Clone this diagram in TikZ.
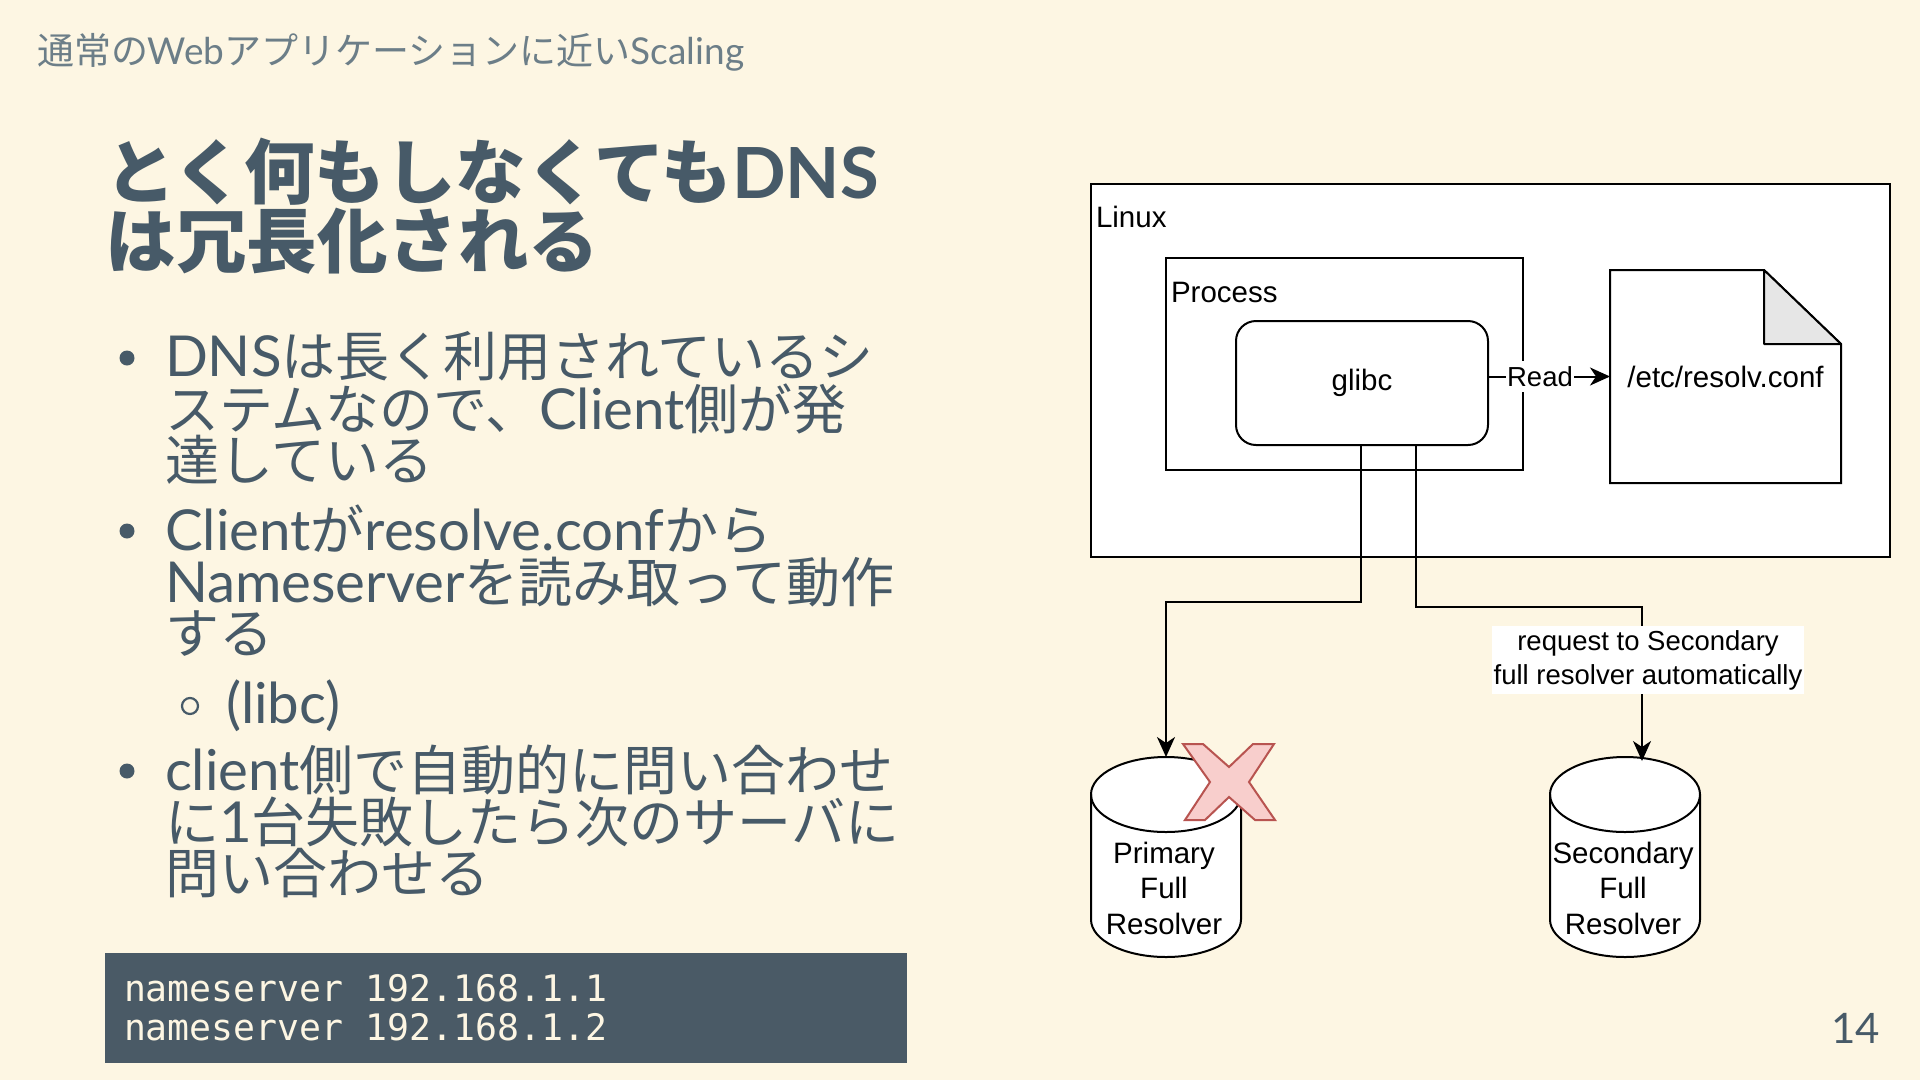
\documentclass[tikz,border=0pt]{standalone}
\usepackage{fontspec}
\setmainfont{Lato}
\newfontfamily\bodylat{Lato}[Scale=1.045]
\newfontfamily\jpfont{Noto Sans CJK JP}
\newfontfamily\diafont{Liberation Sans}
\newfontfamily\codefont{DejaVu Sans Mono}
\usetikzlibrary{arrows.meta}
\newcommand\JP[1]{{\jpfont #1}}
\definecolor{bgc}{HTML}{FDF6E3}
\definecolor{inkc}{HTML}{475A68}
\definecolor{hdrc}{HTML}{6C7E88}
\definecolor{codebg}{HTML}{4A5A66}
\definecolor{foldc}{HTML}{E6E6E6}
\definecolor{xfill}{HTML}{F8CECC}
\definecolor{xline}{HTML}{B85450}
\newcommand\drawcyl[1]{%
  \filldraw[dline, fill=white] ([yshift=-37.5pt]#1.north west) -- ([yshift=37.5pt]#1.south west)
    arc[start angle=180, end angle=360, x radius=75pt, y radius=37.5pt]
    -- ([yshift=-37.5pt]#1.north east)
    arc[start angle=0, end angle=180, x radius=75pt, y radius=37.5pt] -- cycle;
  \draw[dline] ([yshift=-37.5pt]#1.north west)
    arc[start angle=180, end angle=360, x radius=75pt, y radius=37.5pt];}
\begin{document}
\begin{tikzpicture}[x=1pt,y=-1pt,
  every node/.style={inner sep=0pt, outer sep=0pt},
  hdr/.style={anchor=base west, text=hdrc, font=\fontsize{37}{44}\selectfont},
  ttl/.style={anchor=base west, text=inkc, text height=56pt, text depth=10pt,
    font=\fontsize{70.5}{72}\selectfont\bfseries},
  body/.style={anchor=base west, text=inkc, text height=40pt, text depth=8pt,
    font=\bodylat\fontsize{54}{60}\selectfont},
  dot/.style={circle, fill=inkc, minimum size=15pt},
  odot/.style={circle, draw=inkc, line width=2.2pt, minimum size=16pt},
  code/.style={anchor=base west, text=bgc, font=\codefont\fontsize{36.5}{40}\selectfont},
  dline/.style={draw=black, line width=2pt},
  dbox/.style={dline, fill=white},
  dtext/.style={font=\diafont\fontsize{29.5}{35.5}\selectfont, text=black},
  lbl/.style={font=\diafont\fontsize{27.5}{34}\selectfont, fill=white, text=black},
  conn/.style={draw=black, line width=2pt, -{Stealth[length=20pt,width=18pt,inset=6pt]}},
  xmark/.style={draw=xline, fill=xfill, line width=2pt, line join=miter}
]
\useasboundingbox (0,0) rectangle (1920,1080);
\fill[bgc] (0,0) rectangle (1920,1080);

% header and title
\node[hdr] (header) at (37,64) {\JP{通常の}Web\JP{アプリケーションに近い}Scaling};
\node[ttl] (title1) at (105.5,198) {\JP{とく何もしなくても}DNS};
\node[ttl] (title2) at (105.5,267) {\JP{は冗長化される}};

% bullets
\node[dot] (b1) at (127,358) {};
\node[body] (l1) at (165,376) {DNS\JP{は長く利用されているシ}};
\node[body] (l2) at (165,429) {\JP{ステムなので、}Client\JP{側が発}};
\node[body] (l3) at (165,480) {\JP{達している}};
\node[dot] (b2) at (127,531) {};
\node[body] (l4) at (165,550) {Client\JP{が}resolve.conf\JP{から}};
\node[body] (l5) at (165,602) {Nameserver\JP{を読み取って動作}};
\node[body] (l6) at (165,653) {\JP{する}};
\node[odot] (sb) at (190,706) {};
\node[body] (l7) at (226,723) {(libc)};
\node[dot] (b3) at (127,771) {};
\node[body] (l8) at (165,790) {client\JP{側で自動的に問い合わせ}};
\node[body] (l9) at (165,842) {\JP{に}1\JP{台失敗したら次のサーバに}};
\node[body] (l10) at (165,893) {\JP{問い合わせる}};

% code block
\node[fill=codebg, minimum width=802pt, minimum height=110pt, anchor=north west] (codebox) at (105,953) {};
\node[code] (code1) at (124,1001) {nameserver 192.168.1.1};
\node[code] (code2) at (124,1040) {nameserver 192.168.1.2};

% page number
\node[anchor=base east, text=inkc, font=\fontsize{42}{48}\selectfont] (pg) at (1880,1043) {14};

% diagram
\node[dbox, minimum width=799pt, minimum height=373pt] (linux) at (1490.5,370.5) {};
\node[dtext, anchor=base west] (linuxlbl) at (1096,227) {Linux};
\node[dbox, minimum width=357pt, minimum height=212pt] (proc) at (1344.5,364) {};
\node[dtext, anchor=base west] (proclbl) at (1171,302) {Process};
\node[dbox, dtext, rounded corners=20pt, minimum width=252pt, minimum height=124pt] (glibc) at (1362,383) {glibc};

\node[minimum width=231pt, minimum height=213pt] (note) at (1725.5,376.5) {};
\filldraw[dbox] (note.north west) -- ([xshift=-77pt]note.north east) -- ([yshift=-74pt]note.north east)
  -- (note.south east) -- (note.south west) -- cycle;
\filldraw[dline, fill=foldc, line join=round] ([xshift=-77pt]note.north east)
  -- ([xshift=-77pt,yshift=-74pt]note.north east) -- ([yshift=-74pt]note.north east) -- cycle;
\node[dtext] (notetxt) at (note.center) {/etc/resolv.conf};

\node[minimum width=150pt, minimum height=200pt] (prim) at (1166,857) {};
\drawcyl{prim}
\node[dtext, align=center] (primtxt) at (1164,888) {Primary\\Full\\Resolver};
\node[minimum width=150pt, minimum height=200pt] (sec) at (1625,857) {};
\drawcyl{sec}
\node[dtext, align=center] (sectxt) at (1623,888) {Secondary\\Full\\Resolver};

\draw[conn] (glibc.east |- note.west) -- (note.west)
  node[lbl, pos=0.426, inner xsep=1pt, inner ysep=5pt] (readlbl) {Read};

\coordinate (j1) at (1166,602);
\draw[conn] ([xshift=-1pt]glibc.south) |- (j1) -- (prim.north);
\coordinate (j2) at (1642,607);
\coordinate (sectop) at (1642,761);
\draw[conn] ([xshift=54pt]glibc.south) |- (j2) -- (sectop);
\node[lbl, align=center, inner xsep=2pt, inner ysep=4pt] (reqlbl) at (1648,660)
  {request to Secondary\\full resolver automatically};

\draw[xmark] (1183,744) -- (1203,744) -- (1229,767) -- (1253,744) -- (1274,744) -- (1249,782)
  -- (1275,820) -- (1255,820) -- (1229,797) -- (1205,820) -- (1185,820) -- (1210,782) -- cycle;
\end{tikzpicture}
\end{document}
